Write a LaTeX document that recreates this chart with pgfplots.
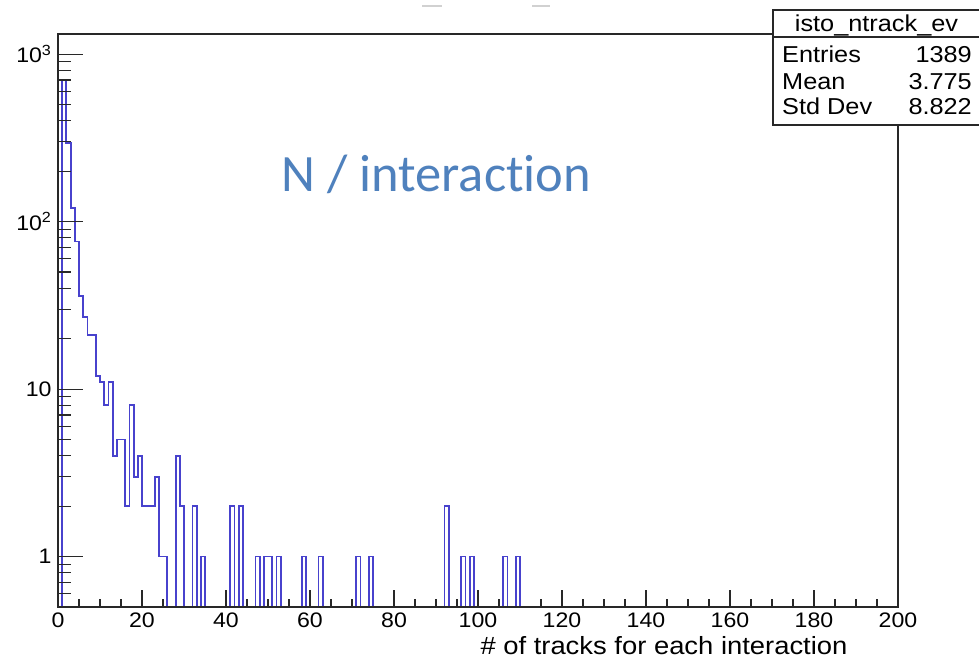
\documentclass[border=0pt]{standalone}
\usepackage{fontspec}
\setmainfont{Liberation Sans}[FakeStretch=1.1]
\newfontfamily\calibri{Carlito}[Ligatures={NoCommon,NoContextual}]
\usepackage{pgfplots}
\pgfplotsset{compat=1.18}
\usepackage{pgfplotstable}

\definecolor{histblue}{RGB}{72,66,205}
\definecolor{annblue}{RGB}{79,129,189}
\definecolor{framegray}{RGB}{40,40,40}

% isto_ntrack_ev: number of tracks per interaction, unit bins from 0 to 200.
% Each row gives the left edge of a bin and its content; a content holds
% until the next row. Empty bins carry 0.001 so the outline falls to the frame.
\pgfplotstableread{
x    n
0    0.001
1    702
2    293
3    120
4    76
5    36
6    27
7    21
9    12
10   11
11   8
12   11
13   4
14   5
16   2
17   8
18   3
19   4
20   2
23   3
24   1
26   0.001
28   4
29   2
30   0.001
32   2
33   0.001
34   1
35   0.001
41   2
42   0.001
43   2
44   0.001
47   1
48   0.001
49   1
51   0.001
52   1
53   0.001
58   1
59   0.001
62   1
63   0.001
71   1
72   0.001
74   1
75   0.001
92   2
93   0.001
96   1
97   0.001
98   1
99   0.001
106  1
107  0.001
109  1
110  0.001
200  0.001
}\ntrack

\pgfplotsset{
  rootframe/.style={
    at={(0pt,0pt)}, anchor=south west,
    scale only axis, width=840pt, height=573pt,
    xmin=0, xmax=200, ymin=0.5, ymax=1318,
    axis line style={line width=1.4pt, framegray},
    tick style={line width=1.1pt, framegray},
    tick pos=left, tick align=inside,
    ticklabel style={font=\fontsize{21}{21}\selectfont},
    /pgf/number format/assume math mode=true,
  }
}

\begin{document}
\begin{tikzpicture}
% histogram and the x axis
\begin{axis}[ymode=log, rootframe,
  xtick={0,20,...,200}, minor xtick={5,10,...,195},
  major tick length=17pt, minor tick length=8.5pt,
  ytick=\empty,
  xticklabel style={yshift=-2pt},
  xlabel={\# of tracks for each interaction},
  xlabel style={at={(axis description cs:0.94,0)}, anchor=east,
    yshift=-39pt, inner sep=0pt, font=\fontsize{24.9}{25}\selectfont},
]
\addplot[const plot mark left, histblue, line width=1.8pt] table[x=x, y=n] {\ntrack};
\end{axis}
% logarithmic y axis ticks
\begin{axis}[ymode=log, rootframe,
  xtick=\empty,
  ytick={1,10,100,1000},
  yticklabels={1,10,10\textsuperscript{2},10\textsuperscript{3}},
  minor ytick={0.6,0.7,0.8,0.9,2,3,4,5,6,7,8,9,20,30,40,50,60,70,80,90,200,300,400,500,600,700,800,900},
  major tick length=25pt, minor tick length=13pt,
  yticklabel style={xshift=-3pt},
]
\end{axis}

% statistics box
\fill[white] (715pt,482pt) rectangle (923pt,597pt);
\draw[line width=1.4pt, framegray] (715pt,482pt) rectangle (923pt,597pt);
\draw[line width=1.4pt, framegray] (715pt,570pt) -- (923pt,570pt);
\begin{scope}[every node/.style={inner sep=0pt, font=\fontsize{23}{23}\selectfont}]
\node[anchor=base] at (818.5pt,575.3pt) {isto\_ntrack\_ev};
\node[anchor=base west] at (724pt,544.3pt) {Entries};
\node[anchor=base west] at (724pt,517.7pt) {Mean};
\node[anchor=base west] at (724pt,492pt) {Std Dev};
\node[anchor=base east] at (914pt,544.3pt) {1389};
\node[anchor=base east] at (914pt,517.7pt) {3.775};
\node[anchor=base east] at (914pt,492pt) {8.822};
\end{scope}

% annotation
\node[anchor=base west, inner sep=0pt, text=annblue,
  font=\calibri\fontsize{52.5}{53}\selectfont] at (223.2pt,415pt) {N / interaction};

% faint remains of a title above the frame
\draw[line width=2pt, black!18] (364pt,601pt) -- (384pt,601pt);
\draw[line width=2pt, black!18] (474pt,601pt) -- (492pt,601pt);

\pgfresetboundingbox
\path[use as bounding box] (-58pt,-53pt) rectangle (921pt,607pt);
\end{tikzpicture}
\end{document}
